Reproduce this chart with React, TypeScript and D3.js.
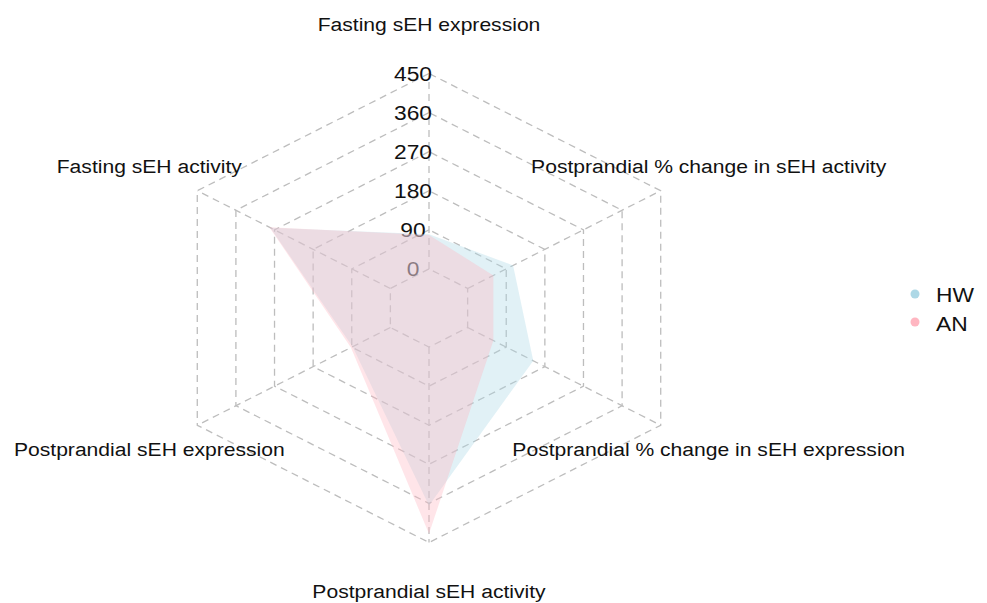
import React from "react";
import * as d3 from "d3";

const axes = [
  "Fasting sEH expression",
  "Fasting sEH activity",
  "Postprandial sEH expression",
  "Postprandial sEH activity",
  "Postprandial % change in sEH expression",
  "Postprandial % change in sEH activity",
];
const hwValues = [80, 280, 88, 365, 153, 106];
const anValues = [78, 282, 92, 430, 60, 60];
const tickValues = [0, 90, 180, 270, 360, 450];
const tickLabels = ["0", "90", "180", "270", "360", "450"];
const seriesNames = ["HW", "AN"];
const seriesColors = ["#add8e6", "#ffb6c1"];

const W = 987;
const H = 603;
const CX = 429;
const CY = 308;
const R = 234.5;
const SX = 1.141;
const FONT = "'Liberation Sans', Arial, sans-serif";

const r = d3.scaleLinear().domain([0, 450]).range([R / 6, R]);
const ang = (i: number) => Math.PI / 2 + (i * Math.PI) / 3;
const pt = (i: number, rad: number): [number, number] => [
  CX + SX * rad * Math.cos(ang(i)),
  CY - rad * Math.sin(ang(i)),
];

const line = d3.line<[number, number]>().curve(d3.curveLinearClosed);

function STxt(props: {
  x: number;
  y: number;
  size: number;
  anchor: string;
  fill?: string;
  children: React.ReactNode;
}) {
  return (
    <text
      transform={`translate(${props.x},${props.y}) scale(${SX},1)`}
      fontSize={props.size}
      textAnchor={props.anchor}
      dy="0.35em"
      fontFamily={FONT}
      fill={props.fill || "#111"}
    >
      {props.children}
    </text>
  );
}

export default function App() {
  const series = [hwValues, anValues];
  return (
    <svg
      width={W}
      height={H}
      style={{ position: "absolute", left: 0, top: 0, background: "#fff" }}
    >
      <rect width={W} height={H} fill="#fff" />
      {/* grid hexagons */}
      {tickValues.map((t) => (
        <path
          key={"g" + t}
          d={line(axes.map((_, i) => pt(i, r(t)))) || ""}
          fill="none"
          stroke="#bdbdbd"
          strokeWidth={1.3}
          strokeDasharray="7,5"
        />
      ))}
      {/* spokes */}
      {axes.map((_, i) => {
        const a = pt(i, r(0));
        const b = pt(i, r(450));
        return (
          <line
            key={"s" + i}
            x1={a[0]}
            y1={a[1]}
            x2={b[0]}
            y2={b[1]}
            stroke="#bdbdbd"
            strokeWidth={1.3}
            strokeDasharray="7,5"
          />
        );
      })}
      {/* tick labels */}
      {tickValues.map((t, k) => (
        <STxt key={"t" + t} x={CX - 16} y={CY - r(t)} size={20} anchor="middle">
          {tickLabels[k]}
        </STxt>
      ))}
      {/* series */}
      {series.map((vals, s) => (
        <path
          key={"p" + s}
          d={line(vals.map((v, i) => pt(i, r(v)))) || ""}
          fill={seriesColors[s]}
          fillOpacity={0.36}
          stroke="none"
        />
      ))}
      {/* axis labels */}
      {axes.map((name, i) => {
        const p = pt(i, R * 1.207);
        return (
          <STxt key={"a" + i} x={p[0]} y={p[1]} size={18.5} anchor="middle">
            {name}
          </STxt>
        );
      })}
      {/* legend */}
      {seriesNames.map((n, k) => (
        <g key={"l" + n}>
          <circle cx={915} cy={294 + k * 28} r={4.5} fill={seriesColors[k]} />
          <STxt x={936} y={295 + k * 29} size={20} anchor="start">
            {n}
          </STxt>
        </g>
      ))}
    </svg>
  );
}
